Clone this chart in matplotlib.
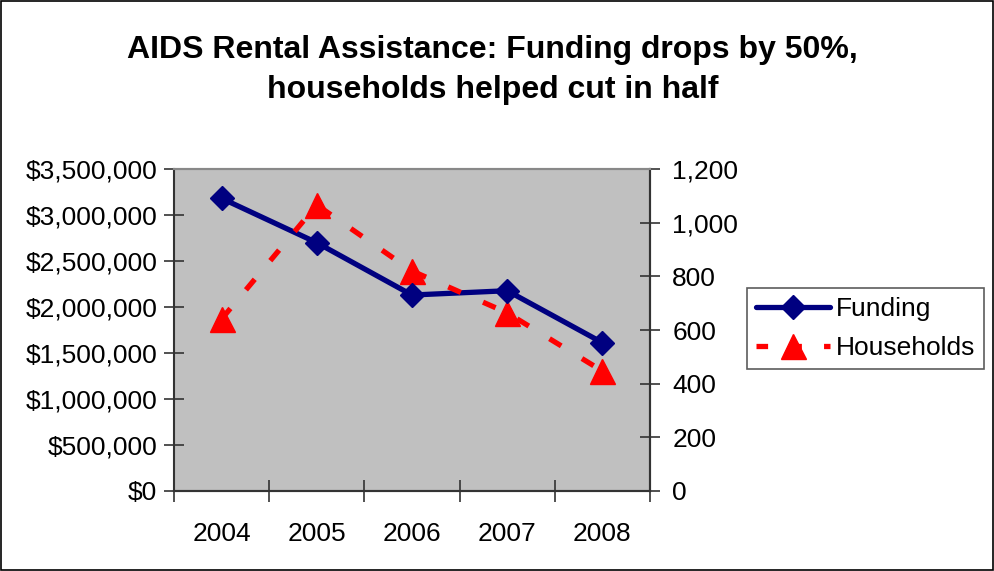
import matplotlib
matplotlib.use("Agg")
import matplotlib.pyplot as plt
from matplotlib.patches import Rectangle
from matplotlib.lines import Line2D
from matplotlib.ticker import FuncFormatter, FixedLocator

years = ["2004", "2005", "2006", "2007", "2008"]
funding = [3181000, 2699000, 2130000, 2177000, 1612000]
households = [641, 1066, 820, 664, 447]
title = "AIDS Rental Assistance: Funding drops by 50%,\nhouseholds helped cut in half"

plt.rcParams['font.family'] = ['Liberation Sans', 'DejaVu Sans']

NAVY = '#000080'
RED = '#FF0000'
LW = 3.8
DASH = (0, (2.6, 4.6))

fig = plt.figure(figsize=(9.95, 5.71), dpi=100)
fig.patch.set_facecolor('white')
fig.patches.append(Rectangle((0.001, 0.001), 0.997, 0.997, transform=fig.transFigure,
                             fill=False, edgecolor='black', linewidth=1.2))

ax = fig.add_axes([174/995, 1-491/571, (650-174)/995, (491-169)/571])
ax.set_facecolor('#C0C0C0')
x = list(range(len(years)))

ax.set_xlim(-0.5, len(years) - 0.5)
ax.set_ylim(0, 3500000)
ax.yaxis.set_major_locator(FixedLocator([i * 500000 for i in range(8)]))
ax.yaxis.set_major_formatter(FuncFormatter(lambda v, p: "${:,.0f}".format(v)))

ax2 = ax.twinx()
ax2.set_ylim(0, 1200)
ax2.yaxis.set_major_locator(FixedLocator([i * 200 for i in range(7)]))
ax2.yaxis.set_major_formatter(FuncFormatter(lambda v, p: "{:,.0f}".format(v)))

# layered drawing: blue line, red line + markers, blue markers
axA = ax.twinx(); axA.set_ylim(0, 3500000); axA.axis('off')
axB = ax.twinx(); axB.set_ylim(0, 1200); axB.axis('off')
axC = ax.twinx(); axC.set_ylim(0, 3500000); axC.axis('off')
ax.set_zorder(1); ax2.set_zorder(2); axA.set_zorder(3); axB.set_zorder(4); axC.set_zorder(5)
for a in (ax2, axA, axB, axC):
    a.patch.set_visible(False)

axA.plot(x, funding, color=NAVY, linewidth=LW, solid_joinstyle='round', solid_capstyle='round')
axB.plot(x, households, color=RED, linewidth=LW, linestyle=DASH, dash_capstyle='butt',
         marker='^', markersize=18)
axC.plot(x, funding, color=NAVY, linestyle='none', marker='D', markersize=12.5)

ax.set_xticks(x)
ax.set_xticklabels(years)
ax.set_xticks([i - 0.5 for i in range(len(years) + 1)], minor=True)
ax.tick_params(axis='x', which='major', length=0, pad=22, labelsize=19)
ax.tick_params(axis='x', which='minor', direction='inout', length=16, width=1.2, color='#333333')
ax.tick_params(axis='y', direction='inout', length=14, width=1.2, color='#333333', labelsize=19, pad=5)
ax2.tick_params(axis='y', direction='inout', length=14, width=1.2, color='#333333', labelsize=19, pad=9)

for a in (ax, ax2):
    a.spines['top'].set_color('#888888')
    a.spines['left'].set_color('#333333')
    a.spines['right'].set_color('#333333')
    a.spines['bottom'].set_color('#333333')
    for s in a.spines.values():
        s.set_linewidth(1.5)
ax2.spines['left'].set_visible(False)

fig.text(0.495, 1 - 70/571, title, ha='center', va='center', fontsize=23,
         fontweight='bold', linespacing=1.45)

h1 = Line2D([], [], color=NAVY, linewidth=LW, marker='D', markersize=12.5,
            solid_capstyle='round')
h2 = Line2D([], [], color=RED, linewidth=LW, linestyle=(0, (2.2, 4.2)), dash_capstyle='butt',
            marker='^', markersize=18)
leg = fig.legend([h1, h2], ["Funding", "Households"], loc='upper left',
                 bbox_to_anchor=(747/995, 1 - 288/571), frameon=True, fancybox=False,
                 edgecolor='#333333', fontsize=19, handlelength=2.8, handletextpad=0.2,
                 borderpad=0.35, labelspacing=0.55, borderaxespad=0)
leg.get_frame().set_linewidth(1.2)

fig.savefig("out.png", dpi=100)
